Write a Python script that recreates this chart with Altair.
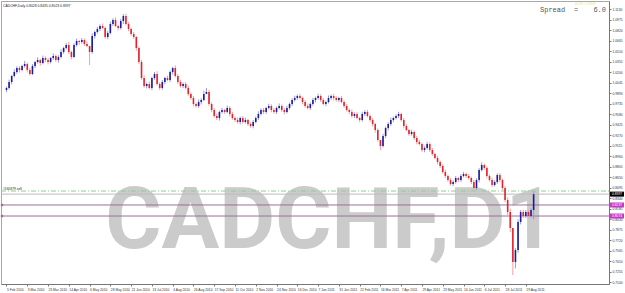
import altair as alt
import pandas as pd

# ---------------- data ----------------
closes = [
    0.9964, 1.0052, 1.0141, 1.0200, 1.0259, 1.0230, 1.0289, 1.0318, 1.0230, 1.0171,
    1.0289, 1.0348, 1.0377, 1.0333, 1.0407, 1.0377, 1.0348, 1.0407, 1.0436, 1.0377,
    1.0421, 1.0495, 1.0554, 1.0599, 1.0495, 1.0421, 1.0599, 1.0658, 1.0643, 1.0672,
    1.0613, 1.0584, 1.0495, 1.0731, 1.0791, 1.0835, 1.0879, 1.0850, 1.0717, 1.0776,
    1.0909, 1.0968, 1.0879, 1.0850, 1.0953, 1.1027, 1.0909, 1.0835, 1.0761, 1.0717,
    1.0554, 1.0348, 1.0111, 0.9993, 1.0023, 0.9964, 1.0111, 1.0171, 1.0023, 0.9964,
    1.0052, 1.0111, 1.0082, 1.0200, 1.0259, 1.0141, 1.0052, 0.9993, 1.0023, 0.9964,
    0.9875, 0.9816, 0.9728, 0.9698, 0.9757, 0.9787, 0.9875, 0.9905, 0.9728, 0.9639,
    0.9551, 0.9521, 0.9610, 0.9639, 0.9610, 0.9669, 0.9580, 0.9521, 0.9491, 0.9462,
    0.9521, 0.9462, 0.9491, 0.9432, 0.9403, 0.9462, 0.9521, 0.9580, 0.9639, 0.9610,
    0.9669, 0.9698, 0.9639, 0.9610, 0.9669, 0.9698, 0.9639, 0.9610, 0.9669, 0.9728,
    0.9787, 0.9816, 0.9846, 0.9816, 0.9757, 0.9698, 0.9669, 0.9728, 0.9787, 0.9816,
    0.9846, 0.9787, 0.9728, 0.9757, 0.9816, 0.9846, 0.9816, 0.9787, 0.9816, 0.9757,
    0.9698, 0.9639, 0.9610, 0.9551, 0.9580, 0.9521, 0.9491, 0.9580, 0.9610, 0.9551,
    0.9491, 0.9432, 0.9344, 0.9196, 0.9108, 0.9255, 0.9373, 0.9432, 0.9491, 0.9521,
    0.9551, 0.9580, 0.9491, 0.9403, 0.9344, 0.9285, 0.9314, 0.9226, 0.9167, 0.9137,
    0.9049, 0.9078, 0.9137, 0.9049, 0.8990, 0.8931, 0.8871, 0.8812, 0.8724, 0.8665,
    0.8606, 0.8547, 0.8576, 0.8635, 0.8606, 0.8665, 0.8694, 0.8665, 0.8635, 0.8576,
    0.8488, 0.8606, 0.8753, 0.8827, 0.8783, 0.8665, 0.8606, 0.8532, 0.8576, 0.8680,
    0.8606, 0.8488, 0.8310, 0.8133, 0.7897, 0.7395, 0.7572, 0.7986, 0.8133, 0.8074,
    0.8133, 0.8074, 0.8163, 0.8397,
]
first_open = 0.9934

# wick lengths beyond the body, in pips (0.0001)
upper_pips = [
    20, 35, 15, 40, 25, 30, 18, 45, 22, 30,
    28, 16, 40, 20, 35, 25, 30, 15, 38, 22,
    26, 40, 18, 30, 45, 20, 25, 35, 15, 30,
    22, 38, 20, 42, 18, 30, 25, 36, 20, 28,
    34, 25, 40, 18, 30, 22, 36, 28, 20, 32,
    15, 25, 30, 40, 22, 35, 18, 28, 40, 25,
    30, 20, 36, 24, 18, 40, 26, 32, 20, 28,
    35, 22, 30, 18, 40, 25, 50, 20, 30, 24,
    28, 36, 20, 30, 16, 34, 25, 30, 22, 38,
    20, 28, 35, 18, 26, 30, 22, 40, 25, 30,
    18, 34, 26, 30, 20, 38, 24, 28, 32, 20,
    26, 35, 22, 30, 18, 28, 36, 24, 30, 20,
    34, 25, 28, 20, 38, 22, 30, 26, 18, 32,
    25, 30, 20, 36, 24, 28, 18, 34, 26, 30,
    22, 28, 20, 24, 30, 35, 22, 28, 36, 20,
    25, 32, 20, 30, 26, 18, 34, 22, 28, 30,
    20, 26, 32, 24, 28, 18, 30, 22, 26, 34,
    20, 28, 24, 30, 18, 26, 32, 22, 28, 20,
    30, 24, 28, 40, 22, 26, 20, 34, 28, 24,
    30, 20, 26, 40, 50, 80, 60, 40, 30, 35,
    28, 30, 25, 40,
]
lower_pips = [
    30, 22, 35, 18, 28, 40, 20, 25, 38, 22,
    18, 30, 25, 40, 20, 28, 35, 22, 30, 26,
    40, 20, 28, 22, 30, 35, 18, 26, 40, 24,
    28, 20, 32, 25, 38, 22, 30, 18, 26, 34,
    22, 30, 18, 36, 24, 28, 20, 34, 26, 30,
    40, 30, 24, 28, 36, 20, 32, 26, 22, 30,
    26, 34, 20, 30, 38, 22, 28, 24, 32, 20,
    30, 26, 34, 22, 28, 36, 20, 30, 26, 32,
    24, 30, 38, 22, 28, 20, 34, 26, 30, 22,
    36, 24, 20, 30, 26, 34, 22, 28, 20, 30,
    28, 22, 34, 26, 30, 20, 28, 36, 22, 26,
    30, 24, 28, 20, 34, 26, 22, 30, 28, 36,
    24, 30, 20, 34, 22, 28, 36, 24, 30, 20,
    28, 22, 34, 26, 30, 20, 32, 24, 28, 22,
    30, 36, 40, 24, 28, 22, 30, 34, 26, 28,
    22, 30, 26, 34, 20, 28, 24, 30, 36, 22,
    28, 34, 22, 30, 26, 20, 34, 28, 24, 30,
    26, 22, 30, 24, 34, 28, 20, 30, 26, 32,
    24, 30, 36, 22, 28, 34, 26, 30, 22, 28,
    34, 28, 30, 45, 60, 40, 90, 40, 35, 30,
    30, 28, 26, 30,
]
# notable wicks: bar index -> (high, low)
wicks = {
    32: (1.0584, 1.0303),
    45: (1.1056, 1.0909),
    77: (0.9964, 0.9875),
    144: (0.9196, 0.9049),
    195: (0.7897, 0.7203),
    196: (0.7600, 0.7300),
    203: (0.8435, 0.8023),
}

date_labels = [
    "5 Feb 2010", "3 Mar 2010", "23 Mar 2010", "14 Apr 2010", "6 May 2010",
    "28 May 2010", "21 Jun 2010", "13 Jul 2010", "4 Aug 2010", "26 Aug 2010",
    "17 Sep 2010", "11 Oct 2010", "2 Nov 2010", "24 Nov 2010", "16 Dec 2010",
    "7 Jan 2011", "31 Jan 2011", "22 Feb 2011", "16 Mar 2011", "7 Apr 2011",
    "29 Apr 2011", "23 May 2011", "14 Jun 2011", "6 Jul 2011", "28 Jul 2011",
    "19 Aug 2011",
]
date_ticks = [0, 8, 16, 24, 32, 40, 48, 56, 64, 72, 80, 88, 96, 104, 112, 120,
              128, 136, 144, 152, 160, 168, 176, 184, 192, 200]

price_ticks = [1.1130, 1.0975, 1.0820, 1.0665, 1.0510, 1.0355, 1.0200, 1.0045,
               0.9890, 0.9735, 0.9580, 0.9425, 0.9270, 0.9115, 0.8960, 0.8805,
               0.8650, 0.8495, 0.8340, 0.8185, 0.8030, 0.7875, 0.7720, 0.7565,
               0.7410, 0.7255, 0.7100]

order_line = 0.8443      # green dash-dot (#160379 sell)
bid_line = 0.8397        # gray bid line
level_lines = [0.8237, 0.8074]   # purple lines

# ---------------- tables ----------------
opens = [first_open] + closes[:-1]
rows = []
for i, (o, c, up, dn) in enumerate(zip(opens, closes, upper_pips, lower_pips)):
    hi = max(o, c) + up / 10000.0
    lo = min(o, c) - dn / 10000.0
    if i in wicks:
        hi, lo = wicks[i]
    rows.append({"i": i, "open": o, "close": c, "high": hi, "low": lo,
                 "dir": "up" if c >= o else "down"})
candles = pd.DataFrame(rows)

W, H = 608, 283
xs = alt.Scale(domain=[-0.19, 230.1], nice=False, zero=False)
ys = alt.Scale(domain=[0.70705, 1.12481], nice=False, zero=False)

label_expr = "[" + ",".join("'%s'" % d for d in date_labels) + "][round(datum.value/8)]"
x_axis = alt.Axis(values=date_ticks, labelExpr=label_expr, title=None, grid=False,
                  labelAlign="left", labelFontSize=3.3, labelColor="#333333",
                  tickSize=2, labelPadding=1, tickColor="#777777",
                  domainColor="#777777", labelOverlap=False, labelFlush=False)
y_axis = alt.Axis(values=price_ticks, format=".4f", orient="right", title=None,
                  grid=False, labelFontSize=3.3, labelColor="#333333", tickSize=2,
                  labelPadding=1, tickColor="#777777", domainColor="#777777",
                  labelOverlap=False, labelFlush=False)

one = pd.DataFrame({"k": [0]})

watermark = alt.Chart(one).mark_text(
    text="CADCHF,D1", font="Roboto", fontWeight="bold",
    fontSize=86, color="#cbcbcb", align="center", baseline="alphabetic"
).encode(x=alt.value(329), y=alt.value(247))

hlines = pd.DataFrame({
    "p": [order_line, bid_line] + level_lines,
    "kind": ["order", "bid", "level", "level"],
})
green = alt.Chart(hlines[hlines.kind == "order"]).mark_rule(
    color="#8fcf8f", strokeWidth=1, strokeDash=[5, 2, 1, 2]
).encode(y=alt.Y("p:Q", scale=ys, axis=y_axis), x=alt.value(0), x2=alt.value(W))
gray = alt.Chart(hlines[hlines.kind == "bid"]).mark_rule(
    color="#bdbdbd", strokeWidth=1
).encode(y=alt.Y("p:Q", scale=ys, axis=y_axis), x=alt.value(0), x2=alt.value(W))
purple = alt.Chart(hlines[hlines.kind == "level"]).mark_rule(
    color="#9c6f9c", strokeWidth=1
).encode(y=alt.Y("p:Q", scale=ys, axis=y_axis), x=alt.value(0), x2=alt.value(W))
purple_pts = alt.Chart(hlines[hlines.kind == "level"]).mark_square(
    size=6, color="#9c6f9c", opacity=1
).encode(y=alt.Y("p:Q", scale=ys, axis=y_axis), x=alt.value(1))

color_scale = alt.Scale(domain=["up", "down"], range=["#1b1b9e", "#e2242c"])
wick_scale = alt.Scale(domain=["up", "down"], range=["#9a9ad8", "#f3a0a0"])

wick_layer = alt.Chart(candles).mark_rule(strokeWidth=1).encode(
    x=alt.X("i:Q", scale=xs, axis=x_axis),
    y=alt.Y("low:Q", scale=ys, axis=y_axis),
    y2="high:Q",
    color=alt.Color("dir:N", scale=wick_scale, legend=None),
)
body_layer = alt.Chart(candles).mark_bar(size=1.6).encode(
    x=alt.X("i:Q", scale=xs, axis=x_axis),
    y=alt.Y("open:Q", scale=ys, axis=y_axis),
    y2="close:Q",
    color=alt.Color("dir:N", scale=color_scale, legend=None),
)

info = alt.Chart(one).mark_text(
    text="CADCHF,Daily  0.8028 0.8435 0.8023 0.8397", fontSize=3.4,
    font="Liberation Sans", color="#222222", align="left", baseline="middle"
).encode(x=alt.value(2), y=alt.value(5))

sell_lbl = alt.Chart(hlines[hlines.kind == "order"]).mark_text(
    text="#160379 sell", fontSize=3.3, font="Liberation Sans", color="#222222",
    align="left", baseline="bottom", dy=-0.5
).encode(y=alt.Y("p:Q", scale=ys, axis=y_axis), x=alt.value(2))

yellow = alt.Chart(one).mark_text(
    text="ACEF+1S0MR", fontSize=3.2, font="Liberation Sans", color="#eeea8a",
    align="left", baseline="middle"
).encode(x=alt.value(574), y=alt.value(2.5))
spread = alt.Chart(one).mark_text(
    text="Spread", fontSize=7, font="Liberation Mono", color="#555555",
    align="left", baseline="middle"
).encode(x=alt.value(539), y=alt.value(8.5))
eq = alt.Chart(one).mark_text(
    text="=", fontSize=7, font="Liberation Mono", color="#555555",
    align="left", baseline="middle"
).encode(x=alt.value(573), y=alt.value(8.5))
sval = alt.Chart(one).mark_text(
    text="6.0", fontSize=7, font="Liberation Mono", color="#555555",
    align="right", baseline="middle"
).encode(x=alt.value(605), y=alt.value(8.5))

boxes = pd.DataFrame({
    "p": [bid_line] + level_lines,
    "lbl": ["%.4f" % bid_line] + ["%.4f" % v for v in level_lines],
    "kind": ["bid", "level", "level"],
})
box_scale = alt.Scale(domain=["bid", "level"], range=["#000000", "#c43ac4"])
box_rect = alt.Chart(boxes).mark_rule(strokeWidth=5).encode(
    y=alt.Y("p:Q", scale=ys, axis=y_axis),
    x=alt.value(W + 1), x2=alt.value(W + 15),
    color=alt.Color("kind:N", scale=box_scale, legend=None),
)
box_text = alt.Chart(boxes).mark_text(
    fontSize=3.3, font="Liberation Sans", color="#ffffff", align="left",
    baseline="middle"
).encode(y=alt.Y("p:Q", scale=ys, axis=y_axis), x=alt.value(W + 3), text="lbl:N")

chart = alt.layer(
    watermark, green, gray, purple, purple_pts, wick_layer, body_layer,
    info, sell_lbl, yellow, spread, eq, sval, box_rect, box_text
).resolve_scale(color="independent").properties(
    width=W, height=H,
    autosize=alt.AutoSizeParams(type="none"),
    padding={"left": 1, "top": 1, "right": 16, "bottom": 9},
    background="#ffffff",
).configure_view(stroke="#a8a8a8", strokeWidth=1).configure_axis(
    labelFont="Liberation Sans"
)

chart.save("out.html", embed_options={"renderer": "svg", "actions": False})
